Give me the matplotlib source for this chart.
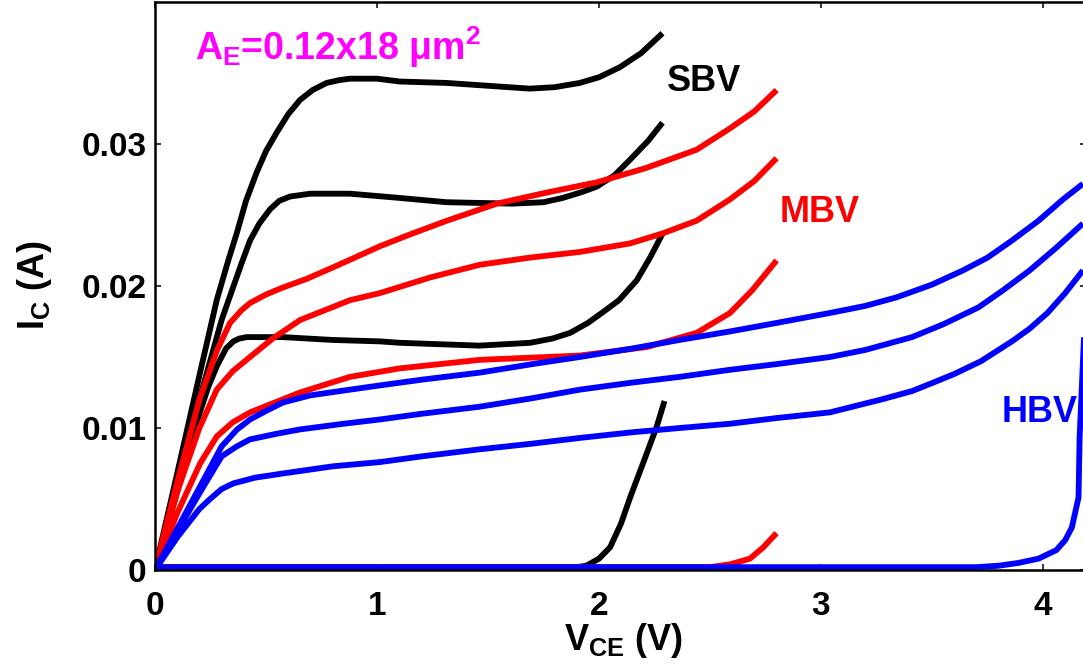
import matplotlib
matplotlib.use('Agg')
import matplotlib.pyplot as plt

plt.rcParams['font.family'] = ['Liberation Sans', 'DejaVu Sans']
plt.rcParams['font.weight'] = 'bold'
plt.rcParams['mathtext.fontset'] = 'custom'
plt.rcParams['mathtext.rm'] = 'Liberation Sans:bold'
plt.rcParams['mathtext.it'] = 'Liberation Sans:bold'
plt.rcParams['mathtext.bf'] = 'Liberation Sans:bold'

# SBV (black)
sbv1_x = [0, 0.1, 0.2, 0.278, 0.33, 0.368, 0.41, 0.458, 0.50, 0.548, 0.60, 0.653, 0.71, 0.773, 0.83, 0.878, 1.0, 1.103, 1.313, 1.5, 1.688, 1.8, 1.913, 2.0, 2.093, 2.19, 2.286]
sbv1_y = [0, 0.0068, 0.0137, 0.0190, 0.0218, 0.0237, 0.0260, 0.0280, 0.0295, 0.0308, 0.0321, 0.0331, 0.0338, 0.0343, 0.0345, 0.0346, 0.0346, 0.0344, 0.0343, 0.0341, 0.0339, 0.0340, 0.0343, 0.0347, 0.0354, 0.0364, 0.0378]
sbv2_x = [0, 0.1, 0.2, 0.30, 0.338, 0.39, 0.428, 0.47, 0.518, 0.56, 0.608, 0.698, 0.878, 1.103, 1.313, 1.61, 1.75, 1.836, 1.92, 1.99, 2.07, 2.14, 2.22, 2.286]
sbv2_y = [0, 0.0060, 0.0120, 0.0176, 0.0193, 0.0216, 0.0232, 0.0244, 0.0254, 0.0260, 0.0263, 0.0265, 0.0265, 0.0262, 0.0259, 0.0258, 0.0259, 0.0262, 0.0266, 0.0270, 0.0278, 0.0289, 0.0302, 0.0315]
sbv3_x = [0, 0.1, 0.2, 0.24, 0.28, 0.32, 0.353, 0.38, 0.413, 0.577, 0.80, 1.013, 1.103, 1.46, 1.69, 1.79, 1.87, 1.95, 2.03, 2.09, 2.17, 2.23, 2.29]
sbv3_y = [0, 0.0055, 0.0110, 0.0129, 0.0144, 0.0156, 0.0161, 0.0163, 0.0164, 0.0164, 0.0162, 0.0161, 0.0160, 0.0158, 0.0160, 0.0163, 0.0167, 0.0174, 0.0183, 0.0190, 0.0204, 0.0220, 0.0238]
sbv4_x = [0, 1.90, 1.943, 2.0, 2.05, 2.10, 2.14, 2.21, 2.26, 2.295]
sbv4_y = [0.0002, 0.0002, 0.0003, 0.0008, 0.0016, 0.0033, 0.0051, 0.0080, 0.0101, 0.0119]

# MBV (red)
mbv1_x = [0, 0.1, 0.2, 0.28, 0.338, 0.39, 0.428, 0.5, 0.577, 0.683, 0.8, 0.9, 1.013, 1.16, 1.315, 1.54, 1.77, 1.99, 2.21, 2.44, 2.59, 2.7, 2.8]
mbv1_y = [0, 0.0062, 0.0120, 0.0155, 0.0174, 0.0183, 0.0188, 0.0194, 0.0199, 0.0205, 0.0213, 0.0220, 0.0228, 0.0237, 0.0246, 0.0258, 0.0266, 0.0273, 0.0283, 0.0296, 0.0311, 0.0323, 0.0338]
mbv2_x = [0, 0.1, 0.2, 0.278, 0.35, 0.428, 0.53, 0.653, 0.878, 1.013, 1.239, 1.464, 1.689, 1.914, 2.14, 2.286, 2.44, 2.59, 2.7, 2.8]
mbv2_y = [0, 0.0055, 0.0100, 0.0127, 0.0140, 0.0150, 0.0163, 0.0176, 0.0190, 0.0195, 0.0206, 0.0215, 0.0220, 0.0224, 0.0230, 0.0237, 0.0246, 0.0261, 0.0274, 0.0290]
mbv3_x = [0, 0.1, 0.203, 0.278, 0.35, 0.428, 0.653, 0.878, 1.103, 1.463, 1.913, 2.214, 2.44, 2.59, 2.69, 2.8]
mbv3_y = [0, 0.0040, 0.0075, 0.0094, 0.0104, 0.0111, 0.0125, 0.0136, 0.0142, 0.0148, 0.0151, 0.0157, 0.0167, 0.0181, 0.0197, 0.0218]
mbv4_x = [0, 2.50, 2.59, 2.68, 2.74, 2.8]
mbv4_y = [0.0002, 0.0002, 0.0004, 0.0008, 0.0016, 0.0026]

# HBV (blue)
hbv1_x = [0, 0.1, 0.2, 0.3, 0.37, 0.428, 0.5, 0.577, 0.7, 0.878, 1.013, 1.2, 1.463, 1.7, 1.913, 2.15, 2.363, 2.59, 2.8, 3.04, 3.2, 3.34, 3.5, 3.64, 3.75, 3.86, 3.98, 4.09, 4.18]
hbv1_y = [0, 0.0029, 0.0058, 0.0087, 0.0099, 0.0106, 0.0112, 0.0118, 0.0123, 0.0127, 0.0130, 0.0134, 0.0139, 0.0145, 0.0150, 0.0156, 0.0162, 0.0168, 0.0174, 0.0181, 0.0186, 0.0192, 0.0201, 0.0211, 0.0220, 0.0232, 0.0246, 0.0261, 0.0272]
hbv2_x = [0, 0.1, 0.2, 0.3, 0.368, 0.428, 0.55, 0.653, 0.85, 1.013, 1.2, 1.463, 1.7, 1.913, 2.15, 2.363, 2.59, 2.8, 3.04, 3.2, 3.41, 3.55, 3.71, 3.82, 3.94, 4.06, 4.18]
hbv2_y = [0, 0.0027, 0.0054, 0.0080, 0.0087, 0.0092, 0.0096, 0.0099, 0.0103, 0.0106, 0.0110, 0.0115, 0.0121, 0.0127, 0.0132, 0.0136, 0.0141, 0.0145, 0.0150, 0.0155, 0.0164, 0.0173, 0.0185, 0.0197, 0.0211, 0.0227, 0.0244]
hbv3_x = [0, 0.1, 0.2, 0.248, 0.3, 0.353, 0.45, 0.577, 0.8, 1.013, 1.2, 1.463, 1.7, 1.913, 2.15, 2.363, 2.59, 2.8, 3.04, 3.27, 3.41, 3.49, 3.6, 3.72, 3.86, 3.94, 4.02, 4.1, 4.18]
hbv3_y = [0, 0.0023, 0.0043, 0.0050, 0.0057, 0.0061, 0.0065, 0.0068, 0.0073, 0.0076, 0.0080, 0.0085, 0.0089, 0.0093, 0.0097, 0.0100, 0.0103, 0.0107, 0.0111, 0.0120, 0.0126, 0.0131, 0.0138, 0.0147, 0.0161, 0.0170, 0.0181, 0.0195, 0.0211]
hbv4_x = [0, 3.70, 3.80, 3.89, 3.98, 4.06, 4.10, 4.13, 4.16, 4.165, 4.175, 4.185]
hbv4_y = [0.0002, 0.0002, 0.0003, 0.0005, 0.0008, 0.0014, 0.0021, 0.0030, 0.0051, 0.0094, 0.0129, 0.0165]

x_ticks = [0, 1, 2, 3, 4]
y_ticks = [0, 0.01, 0.02, 0.03]
y_ticklabels = ['0', '0.01', '0.02', '0.03']

fig = plt.figure(figsize=(10.83, 6.71), dpi=100)
ax = fig.add_axes([155 / 1083, 101 / 671, 931 / 1083, 568 / 671])

lw = 4.2
for xs, ys in [(sbv1_x, sbv1_y), (sbv2_x, sbv2_y), (sbv3_x, sbv3_y), (sbv4_x, sbv4_y)]:
    ax.plot(xs, ys, color='black', lw=lw, solid_capstyle='butt', solid_joinstyle='round')
for xs, ys in [(mbv1_x, mbv1_y), (mbv2_x, mbv2_y), (mbv3_x, mbv3_y), (mbv4_x, mbv4_y)]:
    ax.plot(xs, ys, color='#ff0000', lw=lw, solid_capstyle='butt', solid_joinstyle='round')
for xs, ys in [(hbv1_x, hbv1_y), (hbv2_x, hbv2_y), (hbv3_x, hbv3_y), (hbv4_x, hbv4_y)]:
    ax.plot(xs, ys, color='#0000ff', lw=lw, solid_capstyle='butt', solid_joinstyle='round')

ax.set_xlim(0, 931 / 222)
ax.set_ylim(0, 0.04)
ax.set_xticks(x_ticks)
ax.set_yticks(y_ticks)
ax.set_yticklabels(y_ticklabels)
ax.tick_params(direction='in', length=4.3, width=1.1, top=True, right=True, labelsize=24)
ax.tick_params(axis='x', pad=15)
ax.tick_params(axis='y', pad=6)
for lab in ax.get_xticklabels() + ax.get_yticklabels():
    lab.set_fontweight('bold')
for sp in ax.spines.values():
    sp.set_linewidth(1.8)

ax.text(0.18, 0.0359, r'$A_E$=0.12x18 $\mu$m$^2$', color='#ff00ff', fontsize=27, fontweight='bold', ha='left', va='baseline')
ax.text(2.306, 0.0337, 'SBV', color='black', fontsize=26, fontweight='bold', ha='left', va='baseline')
ax.text(2.815, 0.0245, 'MBV', color='#ff0000', fontsize=26, fontweight='bold', ha='left', va='baseline')
ax.text(3.815, 0.0104, 'HBV', color='#0000ff', fontsize=26, fontweight='bold', ha='left', va='baseline')

fig.text(623 / 1083, 1 - 641 / 671, r'$V_{CE}$ (V)', fontsize=26, fontweight='bold', ha='center', va='center')
fig.text(34 / 1083, 1 - 285 / 671, r'$I_C$ (A)', fontsize=26, fontweight='bold', ha='center', va='center', rotation=90)

plt.savefig('out.png', dpi=100)
